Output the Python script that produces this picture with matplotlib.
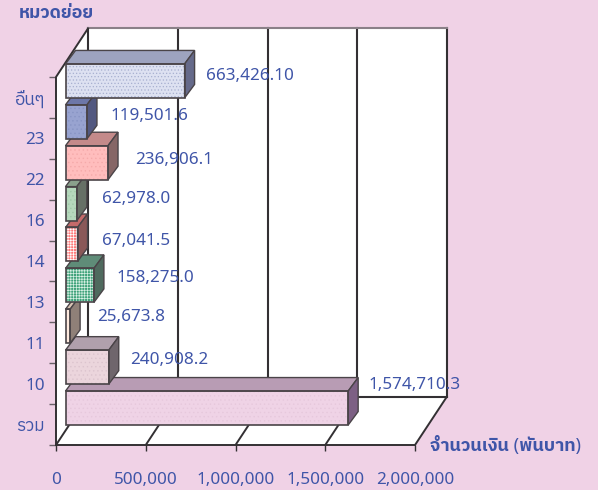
import matplotlib
matplotlib.use("Agg")
import matplotlib.pyplot as plt
from matplotlib.patches import Polygon

categories = ["รวม", "10", "11", "13", "14", "16", "22", "23", "อื่นๆ"]
values = [1574710.3, 240908.2, 25673.8, 158275.0, 67041.5, 62978.0, 236906.1, 119501.6, 663426.10]
value_labels = ["1,574,710.3", "240,908.2", "25,673.8", "158,275.0", "67,041.5",
                "62,978.0", "236,906.1", "119,501.6", "663,426.10"]
x_ticks = [0, 500000, 1000000, 1500000, 2000000]
x_tick_labels = ["0", "500,000", "1,000,000", "1,500,000", "2,000,000"]

front = ["#EFD3E6", "#EBD5DC", "#FFEADF", "#3FA27A", "#FF7A7A", "#B5D8BC", "#FFBDBD", "#98A3D0", "#DDE1F1"]
hatch_col = ["#E6C8DC", "#DCC4CE", "#F5D0BC", "#D8F0E4", "#FFFFFF", "#A0C8A8", "#F5AAAA", "#8894C4", "#A8B0D0"]
hatches = ["....", "....", "|||", "++++++", "++++++", "....", "....", "....", "....."]
top = ["#B89CB4", "#B0A0AC", "#D8C4B4", "#5F8C78", "#C46A6A", "#8AA08C", "#C48A8A", "#6D77A8", "#9DA3BF"]
side = ["#7D6084", "#6F666C", "#8F8078", "#4F6A5E", "#8A5858", "#667066", "#866666", "#525880", "#666A8A"]
label_dx = [10, 11, 17, 13, 14, 15, 17.5, 13.5, 11]
label_dy = [23.5, 7, 9, 7, 4, 5, 3, 6, 5]

plt.rcParams["font.family"] = ["Noto Sans", "IBM Plex Sans Thai", "DejaVu Sans"]
plt.rcParams["hatch.linewidth"] = 0.5

W, H = 598, 490
BG = "#F0D2E6"
TXT = "#3F55A8"
LINE = "#333033"
fig = plt.figure(figsize=(W / 100, H / 100), dpi=100, facecolor=BG)
ax = fig.add_axes([56 / W, (H - 445) / H, 359 / W, 368 / H], facecolor="none")
ax.set_xlim(0, 2000000)
ax.set_ylim(0, 9)
for s in ax.spines.values():
    s.set_visible(False)

ux = 2000000 / 359
uy = 9 / 368
dep_x, dep_y = 32 * ux, 48.5 * uy
bar_dx, bar_dy = 10 * ux, 13.5 * uy
base = 9.5 * ux
bar_h = 34 * uy
bar_off = 16.5 * uy


def poly(pts, **kw):
    p = Polygon(pts, closed=True, clip_on=False, **kw)
    ax.add_patch(p)


# walls and floor
poly([(0, 0), (2000000, 0), (2000000 + dep_x, dep_y), (dep_x, dep_y)], fc="white", ec="none", zorder=1)
poly([(0, 0), (dep_x, dep_y), (dep_x, 9 + dep_y), (0, 9)], fc="white", ec="none", zorder=1)
poly([(dep_x, dep_y), (2000000 + dep_x, dep_y), (2000000 + dep_x, 9 + dep_y), (dep_x, 9 + dep_y)],
     fc="white", ec="none", zorder=1)

for t in x_ticks:
    ax.plot([t, t + dep_x], [0, dep_y], color=LINE, lw=1.4, zorder=2, clip_on=False, solid_capstyle="butt")
    ax.plot([t + dep_x, t + dep_x], [dep_y, 9 + dep_y], color=LINE, lw=1.5, zorder=2, clip_on=False)
ax.plot([0, 2000000], [0, 0], color=LINE, lw=1.4, zorder=2, clip_on=False)
ax.plot([dep_x, 2000000 + dep_x], [dep_y, dep_y], color=LINE, lw=1.5, zorder=2, clip_on=False)
ax.plot([dep_x, 2000000 + dep_x], [9 + dep_y, 9 + dep_y], color="#8A8088", lw=1.5, zorder=2, clip_on=False)
ax.plot([0, 0, dep_x], [0, 9, 9 + dep_y], color=LINE, lw=1.4, zorder=2, clip_on=False)

# bars, lowest first so that upper bars overlap lower ones
EDGE = "#4A4448"
for i, v in enumerate(values):
    z = 3 + i * 0.1
    yc = i + 0.5 + bar_off
    y0 = yc - bar_h / 2
    y1 = y0 + bar_h
    ax.barh(yc, v, left=base, height=bar_h, color=front[i], edgecolor=hatch_col[i],
            hatch=hatches[i], linewidth=0, zorder=z, clip_on=False)
    ax.barh(yc, v, left=base, height=bar_h, facecolor="none", edgecolor=EDGE,
            linewidth=1.2, zorder=z + 0.02, clip_on=False)
    x1 = base + v
    poly([(base, y1), (x1, y1), (x1 + bar_dx, y1 + bar_dy), (base + bar_dx, y1 + bar_dy)],
         fc=top[i], ec=EDGE, lw=1.0, zorder=z + 0.01)
    poly([(x1, y0), (x1 + bar_dx, y0 + bar_dy), (x1 + bar_dx, y1 + bar_dy), (x1, y1)],
         fc=side[i], ec=EDGE, lw=1.0, zorder=z + 0.01)
    ax.text(x1 + bar_dx + label_dx[i] * ux, yc + label_dy[i] * uy, value_labels[i],
            fontsize=12.3, color=TXT, ha="left", va="center", zorder=10, clip_on=False)

# axes ticks and labels
ax.set_xticks(x_ticks, x_tick_labels, fontsize=12.3, color=TXT)
ax.tick_params(axis="x", length=4.3, width=1.0, color=LINE, pad=15)
ax.set_yticks(range(10), [""] * 10)
ax.set_yticks([i + 0.5 for i in range(9)], categories, minor=True, fontsize=12.3, color=TXT)
ax.tick_params(axis="y", which="major", length=5, width=1.0, color="#6A6068")
ax.tick_params(axis="y", which="minor", length=0, pad=8)

fig.text(19 / W, 1 - 13 / H, "หมวดย่อย", fontsize=12.8, fontweight="bold", color=TXT, ha="left", va="center")
fig.text(430 / W, 1 - 445 / H, "จำนวนเงิน (พันบาท)", fontsize=13, fontweight="bold", color=TXT, ha="left", va="center")

fig.savefig("out.png", dpi=100, facecolor=BG)
